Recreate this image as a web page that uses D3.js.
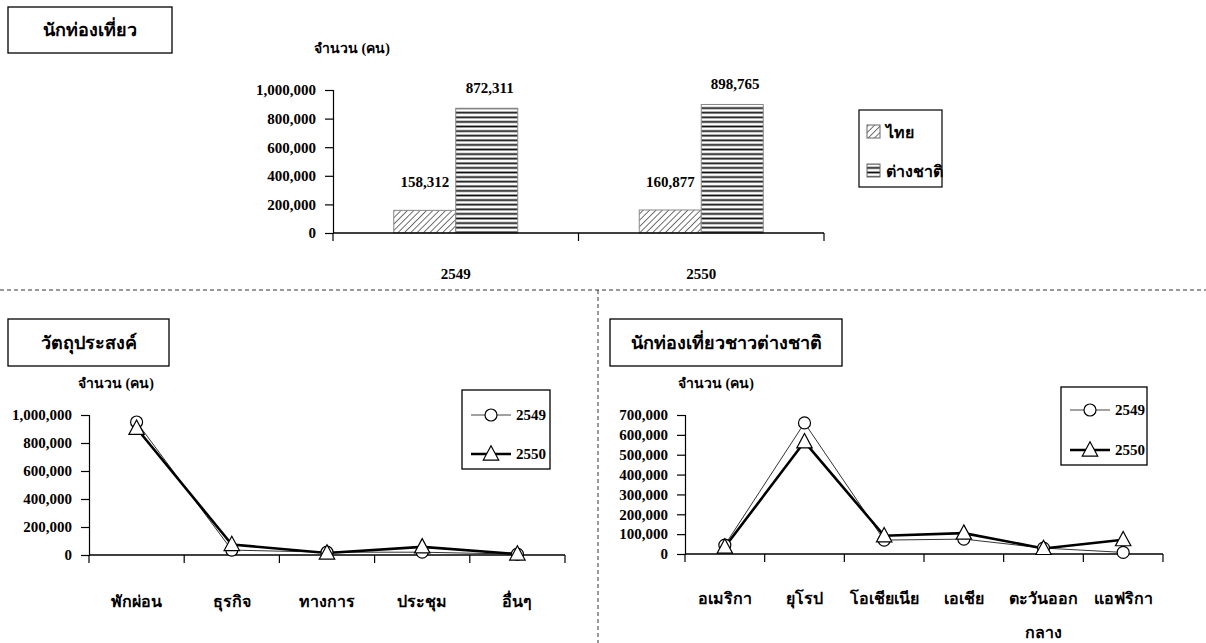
<!DOCTYPE html>
<html><head><meta charset="utf-8">
<script src="https://cdn.jsdelivr.net/npm/d3@7"></script>
<style>
html,body{margin:0;padding:0;background:#fff;}
svg{display:block;}
text{font-family:"Liberation Serif","Times New Roman",serif;font-weight:bold;fill:#000;}
</style></head>
<body>
<svg id="c" width="1206" height="643"></svg>
<script>
// ---- data ----
const years = ["2549", "2550"];
const nationSeries = ["ไทย", "ต่างชาติ"];
const thaiVisitors = [158312, 160877];
const foreignVisitors = [872311, 898765];
const topTicks = [0, 200000, 400000, 600000, 800000, 1000000];

const purposes = ["พักผ่อน", "ธุรกิจ", "ทางการ", "ประชุม", "อื่นๆ"];
const purpose2549 = [950000, 35000, 20000, 20000, 6000];
const purpose2550 = [905000, 75000, 14000, 58000, 7000];
const purposeTicks = [0, 200000, 400000, 600000, 800000, 1000000];

const regions = ["อเมริกา", "ยุโรป", "โอเชียเนีย", "เอเชีย", "ตะวันออก|กลาง", "แอฟริกา"];
const region2549 = [45000, 660000, 70000, 75000, 30000, 8000];
const region2550 = [35000, 565000, 92000, 105000, 28000, 72000];
const regionTicks = [0, 100000, 200000, 300000, 400000, 500000, 600000, 700000];

const titles = ["นักท่องเที่ยว", "วัตถุประสงค์", "นักท่องเที่ยวชาวต่างชาติ"];
const yLabel = "จำนวน (คน)";

const svg = d3.select("#c");
const fmt = d3.format(",");
const NUM = 15;

// defs: patterns
const defs = svg.append("defs");
const hatch = defs.append("pattern").attr("id","hatch").attr("patternUnits","userSpaceOnUse")
  .attr("width",4.5).attr("height",4.5).attr("patternTransform","rotate(45)");
hatch.append("rect").attr("width",4.5).attr("height",4.5).attr("fill","#fff");
hatch.append("line").attr("x1",0).attr("y1",0).attr("x2",0).attr("y2",4.5).attr("stroke","#333").attr("stroke-width",1.4);
const stripes = defs.append("pattern").attr("id","stripes").attr("patternUnits","userSpaceOnUse")
  .attr("width",10).attr("height",4.6);
stripes.append("rect").attr("width",10).attr("height",4.6).attr("fill","#fff");
stripes.append("line").attr("x1",0).attr("y1",2.3).attr("x2",10).attr("y2",2.3).attr("stroke","#111").attr("stroke-width",1.8);

function titleBox(x,y,w,h,txt){
  svg.append("rect").attr("x",x).attr("y",y).attr("width",w).attr("height",h)
    .attr("fill","#fff").attr("stroke","#000").attr("stroke-width",1.3);
  svg.append("text").attr("x",x+w/2).attr("y",y+h/2+6).attr("text-anchor","middle")
    .attr("font-size",18).text(txt);
}

function drawAxes(g, x, y, ticks, x0, x1, y0){
  const ya = d3.axisLeft(y).tickValues(ticks).tickFormat(fmt).tickSizeOuter(0).tickSize(8).tickPadding(9);
  const yg = g.append("g").attr("transform",`translate(${x0},0)`).call(ya);
  yg.selectAll("text").attr("font-size",NUM).attr("fill","#000")
    .style("font-family","'Liberation Serif',serif").style("font-weight","bold");
  yg.selectAll("line,path").attr("stroke","#000").attr("stroke-width",1.2);
  g.append("line").attr("x1",x0).attr("x2",x1).attr("y1",y0).attr("y2",y0).attr("stroke","#000").attr("stroke-width",1.3);
  const edges = x.domain().map(d=>x(d)).concat([x1]);
  g.selectAll(".xt").data(edges).join("line").attr("x1",d=>d).attr("x2",d=>d)
    .attr("y1",y0).attr("y2",y0+8).attr("stroke","#000").attr("stroke-width",1.2);
}

// ---------- top bar chart ----------
titleBox(8,7,164,46,titles[0]);
{
  const g = svg.append("g");
  const x0 = 333, x1 = 824, yTop = 90, yBot = 233;
  const x = d3.scaleBand().domain(years).range([x0,x1]).padding(0);
  const y = d3.scaleLinear().domain([0,1000000]).range([yBot,yTop]);
  const xs = d3.scaleBand().domain(nationSeries).range([0,x.bandwidth()]).paddingInner(0).paddingOuter(0.98);
  g.append("text").attr("x",352).attr("y",53).attr("text-anchor","middle").attr("font-size",14).text(yLabel);
  const series = [thaiVisitors, foreignVisitors];
  const fills = ["url(#hatch)","url(#stripes)"];
  series.forEach((vals,si)=>{
    g.selectAll(".b"+si).data(years).join("rect")
      .attr("x",d=>x(d)+xs(nationSeries[si])).attr("width",xs.bandwidth())
      .attr("y",(d,i)=>y(vals[i])).attr("height",(d,i)=>yBot-y(vals[i]))
      .attr("fill",fills[si]).attr("stroke","#888").attr("stroke-width",1);
  });
  drawAxes(g,x,y,topTicks,x0,x1,yBot);
  years.forEach((yr,i)=>{
    g.append("text").attr("x",x(yr)+xs(nationSeries[0])+xs.bandwidth()/2).attr("y",y(thaiVisitors[i])-23)
      .attr("text-anchor","middle").attr("font-size",NUM).text(fmt(thaiVisitors[i]));
    g.append("text").attr("x",x(yr)+xs(nationSeries[1])+xs.bandwidth()/2+3).attr("y",y(foreignVisitors[i])-15)
      .attr("text-anchor","middle").attr("font-size",NUM).text(fmt(foreignVisitors[i]));
    g.append("text").attr("x",x(yr)+x.bandwidth()/2).attr("y",279).attr("text-anchor","middle")
      .attr("font-size",NUM).text(yr);
  });
  // legend
  g.append("rect").attr("x",859).attr("y",110).attr("width",83).attr("height",77)
    .attr("fill","#fff").attr("stroke","#000").attr("stroke-width",1.2);
  nationSeries.forEach((s,i)=>{
    const cy = 132 + i*39;
    g.append("rect").attr("x",867).attr("y",cy-7).attr("width",13).attr("height",13)
      .attr("fill",fills[i]).attr("stroke","#666").attr("stroke-width",1);
    g.append("text").attr("x",886).attr("y",cy+6).attr("font-size",16).text(s);
  });
}

// dashed separators
svg.append("line").attr("x1",0).attr("x2",1206).attr("y1",290).attr("y2",290)
  .attr("stroke","#333").attr("stroke-dasharray","4,3").attr("stroke-width",1);
svg.append("line").attr("x1",598).attr("x2",598).attr("y1",290).attr("y2",643)
  .attr("stroke","#333").attr("stroke-dasharray","4,3").attr("stroke-width",1);

function triPath(cx,cy,s){ return `M${cx},${cy-s*0.75}L${cx+s*0.7},${cy+s*0.55}L${cx-s*0.7},${cy+s*0.55}Z`; }

function lineChart(opts){
  const {cats, s1, s2, ticks, ymax, x0, x1, yTop, yBot, legend, ylab, labelY} = opts;
  const g = svg.append("g");
  const x = d3.scaleBand().domain(cats).range([x0,x1]).padding(0);
  const y = d3.scaleLinear().domain([0,ymax]).range([yBot,yTop]);
  g.append("text").attr("x",ylab[0]).attr("y",ylab[1]).attr("text-anchor","middle").attr("font-size",14).text(yLabel);
  drawAxes(g,x,y,ticks,x0,x1,yBot);
  const cx = d=>x(d)+x.bandwidth()/2;
  const line = d3.line().x((d,i)=>cx(cats[i])).y(d=>y(d));
  g.append("path").datum(s1).attr("d",line).attr("fill","none").attr("stroke","#333").attr("stroke-width",1);
  g.append("path").datum(s2).attr("d",line).attr("fill","none").attr("stroke","#000").attr("stroke-width",2.6);
  g.selectAll(".c1").data(s1).join("circle").attr("cx",(d,i)=>cx(cats[i])).attr("cy",d=>y(d))
    .attr("r",6).attr("fill","#fff").attr("stroke","#000").attr("stroke-width",1.2);
  g.selectAll(".t2").data(s2).join("path").attr("d",(d,i)=>triPath(cx(cats[i]),y(d),11))
    .attr("fill","#fff").attr("stroke","#000").attr("stroke-width",1.2);
  cats.forEach(c=>{
    c.split("|").forEach((p,k)=>{
      g.append("text").attr("x",cx(c)).attr("y",labelY+k*34).attr("text-anchor","middle").attr("font-size",16).text(p);
    });
  });
  // legend
  const [lx,ly,lw,lh,r1,r2] = legend;
  g.append("rect").attr("x",lx).attr("y",ly).attr("width",lw).attr("height",lh)
    .attr("fill","#fff").attr("stroke","#000").attr("stroke-width",1.3);
  g.append("line").attr("x1",lx+9).attr("x2",lx+49).attr("y1",r1).attr("y2",r1).attr("stroke","#444").attr("stroke-width",1);
  g.append("circle").attr("cx",lx+29).attr("cy",r1).attr("r",6).attr("fill","#fff").attr("stroke","#000").attr("stroke-width",1.2);
  g.append("text").attr("x",lx+54).attr("y",r1+5).attr("font-size",NUM).text(years[0]);
  g.append("line").attr("x1",lx+9).attr("x2",lx+49).attr("y1",r2).attr("y2",r2).attr("stroke","#000").attr("stroke-width",2.6);
  g.append("path").attr("d",triPath(lx+29,r2,11)).attr("fill","#fff").attr("stroke","#000").attr("stroke-width",1.2);
  g.append("text").attr("x",lx+54).attr("y",r2+5).attr("font-size",NUM).text(years[1]);
}

titleBox(8,319,161,47,titles[1]);
lineChart({cats:purposes, s1:purpose2549, s2:purpose2550, ticks:purposeTicks, ymax:1000000,
  x0:89, x1:565, yTop:415, yBot:555, legend:[462,390,88,79,415,454], ylab:[116,388], labelY:607});

titleBox(610,319,232,47,titles[2]);
lineChart({cats:regions, s1:region2549, s2:region2550, ticks:regionTicks, ymax:700000,
  x0:685, x1:1163, yTop:415, yBot:554, legend:[1061,387,86,78,410,450], ylab:[716,388], labelY:604});
</script>
</body></html>
